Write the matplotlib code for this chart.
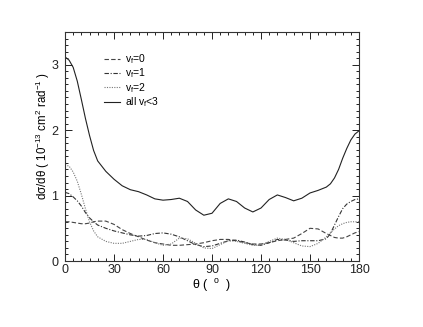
import matplotlib
matplotlib.use('Agg')
from matplotlib import pyplot as plt
from matplotlib.ticker import MultipleLocator

# Angular distributions (theta in degrees)
theta = [0, 2.5, 5, 7.5, 10, 12.5, 15, 17.5, 20, 25, 30, 35, 40, 45, 50, 55,
         60, 65, 70, 75, 80, 85, 90, 95, 100, 105, 110, 115, 120, 125, 130,
         135, 140, 145, 150, 155, 160, 162.5, 165, 167.5, 170, 172.5, 175,
         177.5, 180]

v0 = [0.60, 0.60, 0.59, 0.58, 0.57, 0.57, 0.58, 0.60, 0.61, 0.61, 0.56, 0.48,
      0.42, 0.37, 0.32, 0.28, 0.26, 0.24, 0.24, 0.25, 0.26, 0.28, 0.31, 0.33,
      0.33, 0.31, 0.28, 0.26, 0.26, 0.28, 0.31, 0.33, 0.35, 0.42, 0.50, 0.49,
      0.42, 0.39, 0.36, 0.35, 0.35, 0.37, 0.40, 0.43, 0.45]

v1 = [1.05, 1.03, 0.98, 0.92, 0.84, 0.74, 0.66, 0.60, 0.55, 0.50, 0.46, 0.43,
      0.40, 0.38, 0.39, 0.42, 0.43, 0.41, 0.37, 0.31, 0.25, 0.22, 0.23, 0.27,
      0.31, 0.32, 0.29, 0.25, 0.24, 0.28, 0.33, 0.32, 0.30, 0.31, 0.31, 0.31,
      0.34, 0.42, 0.55, 0.68, 0.80, 0.87, 0.91, 0.94, 0.95]

v2 = [1.47, 1.45, 1.36, 1.22, 1.02, 0.80, 0.60, 0.46, 0.37, 0.30, 0.27, 0.27,
      0.30, 0.33, 0.33, 0.28, 0.24, 0.26, 0.35, 0.34, 0.27, 0.20, 0.19, 0.25,
      0.31, 0.30, 0.27, 0.24, 0.24, 0.30, 0.35, 0.33, 0.28, 0.23, 0.22, 0.27,
      0.37, 0.43, 0.49, 0.54, 0.57, 0.59, 0.60, 0.60, 0.60]

v_all = [3.12, 3.07, 2.96, 2.75, 2.47, 2.18, 1.92, 1.69, 1.53, 1.37, 1.25,
         1.15, 1.09, 1.06, 1.01, 0.95, 0.93, 0.94, 0.96, 0.91, 0.78, 0.70,
         0.73, 0.88, 0.95, 0.91, 0.81, 0.75, 0.81, 0.94, 1.01, 0.97, 0.92,
         0.96, 1.04, 1.08, 1.13, 1.18, 1.27, 1.40, 1.57, 1.72, 1.85, 1.94,
         1.99]

labels = ['v$_\\mathrm{f}$=0', 'v$_\\mathrm{f}$=1', 'v$_\\mathrm{f}$=2',
          'all v$_\\mathrm{f}$<3']

plt.rcParams['font.family'] = ['Liberation Sans', 'DejaVu Sans']
plt.rcParams['mathtext.fontset'] = 'custom'
plt.rcParams['mathtext.rm'] = 'Liberation Sans'
plt.rcParams['mathtext.it'] = 'Liberation Sans'

fig = plt.figure(figsize=(4.23, 3.27), dpi=100)
ax = fig.add_axes([0.1537, 0.2018, 0.6950, 0.7002])

lw = 0.8
ax.plot(theta, v0, color='#444444', lw=lw, dashes=(4, 2), label=labels[0])
ax.plot(theta, v1, color='#333333', lw=lw, dashes=(4, 1.5, 1, 1.5), label=labels[1])
ax.plot(theta, v2, color='#777777', lw=lw, dashes=(1, 1.2), label=labels[2])
ax.plot(theta, v_all, color='#222222', lw=lw, label=labels[3])

ax.set_xlim(0, 180)
ax.set_ylim(0, 3.5)
ax.xaxis.set_major_locator(MultipleLocator(30))
ax.xaxis.set_minor_locator(MultipleLocator(5))
ax.yaxis.set_major_locator(MultipleLocator(1))
ax.yaxis.set_minor_locator(MultipleLocator(0.1))
ax.tick_params(which='both', direction='in', top=True, right=True,
               labelsize=9, width=0.7, colors='#222222')
ax.tick_params(which='major', length=5)
ax.tick_params(which='minor', length=2.5)
ax.tick_params(axis='y', pad=5)
ax.tick_params(axis='x', pad=2)
for sp in ax.spines.values():
    sp.set_linewidth(0.8)
    sp.set_color('#333333')

ax.set_xlabel('θ (  $^\\mathrm{o}$  )', fontsize=9, labelpad=1)
ax.set_ylabel('dσ/dθ ( 10$^{-13}$ cm$^{2}$ rad$^{-1}$ )', fontsize=8.3)
ax.yaxis.set_label_coords(-0.045, 0.546)

ax.legend(loc='upper left', bbox_to_anchor=(0.12, 0.93), frameon=False,
          fontsize=7.5, handlelength=1.5, handletextpad=0.5, labelspacing=0.05,
          borderaxespad=0)

fig.savefig('out.png', dpi=100)
plt.close()
